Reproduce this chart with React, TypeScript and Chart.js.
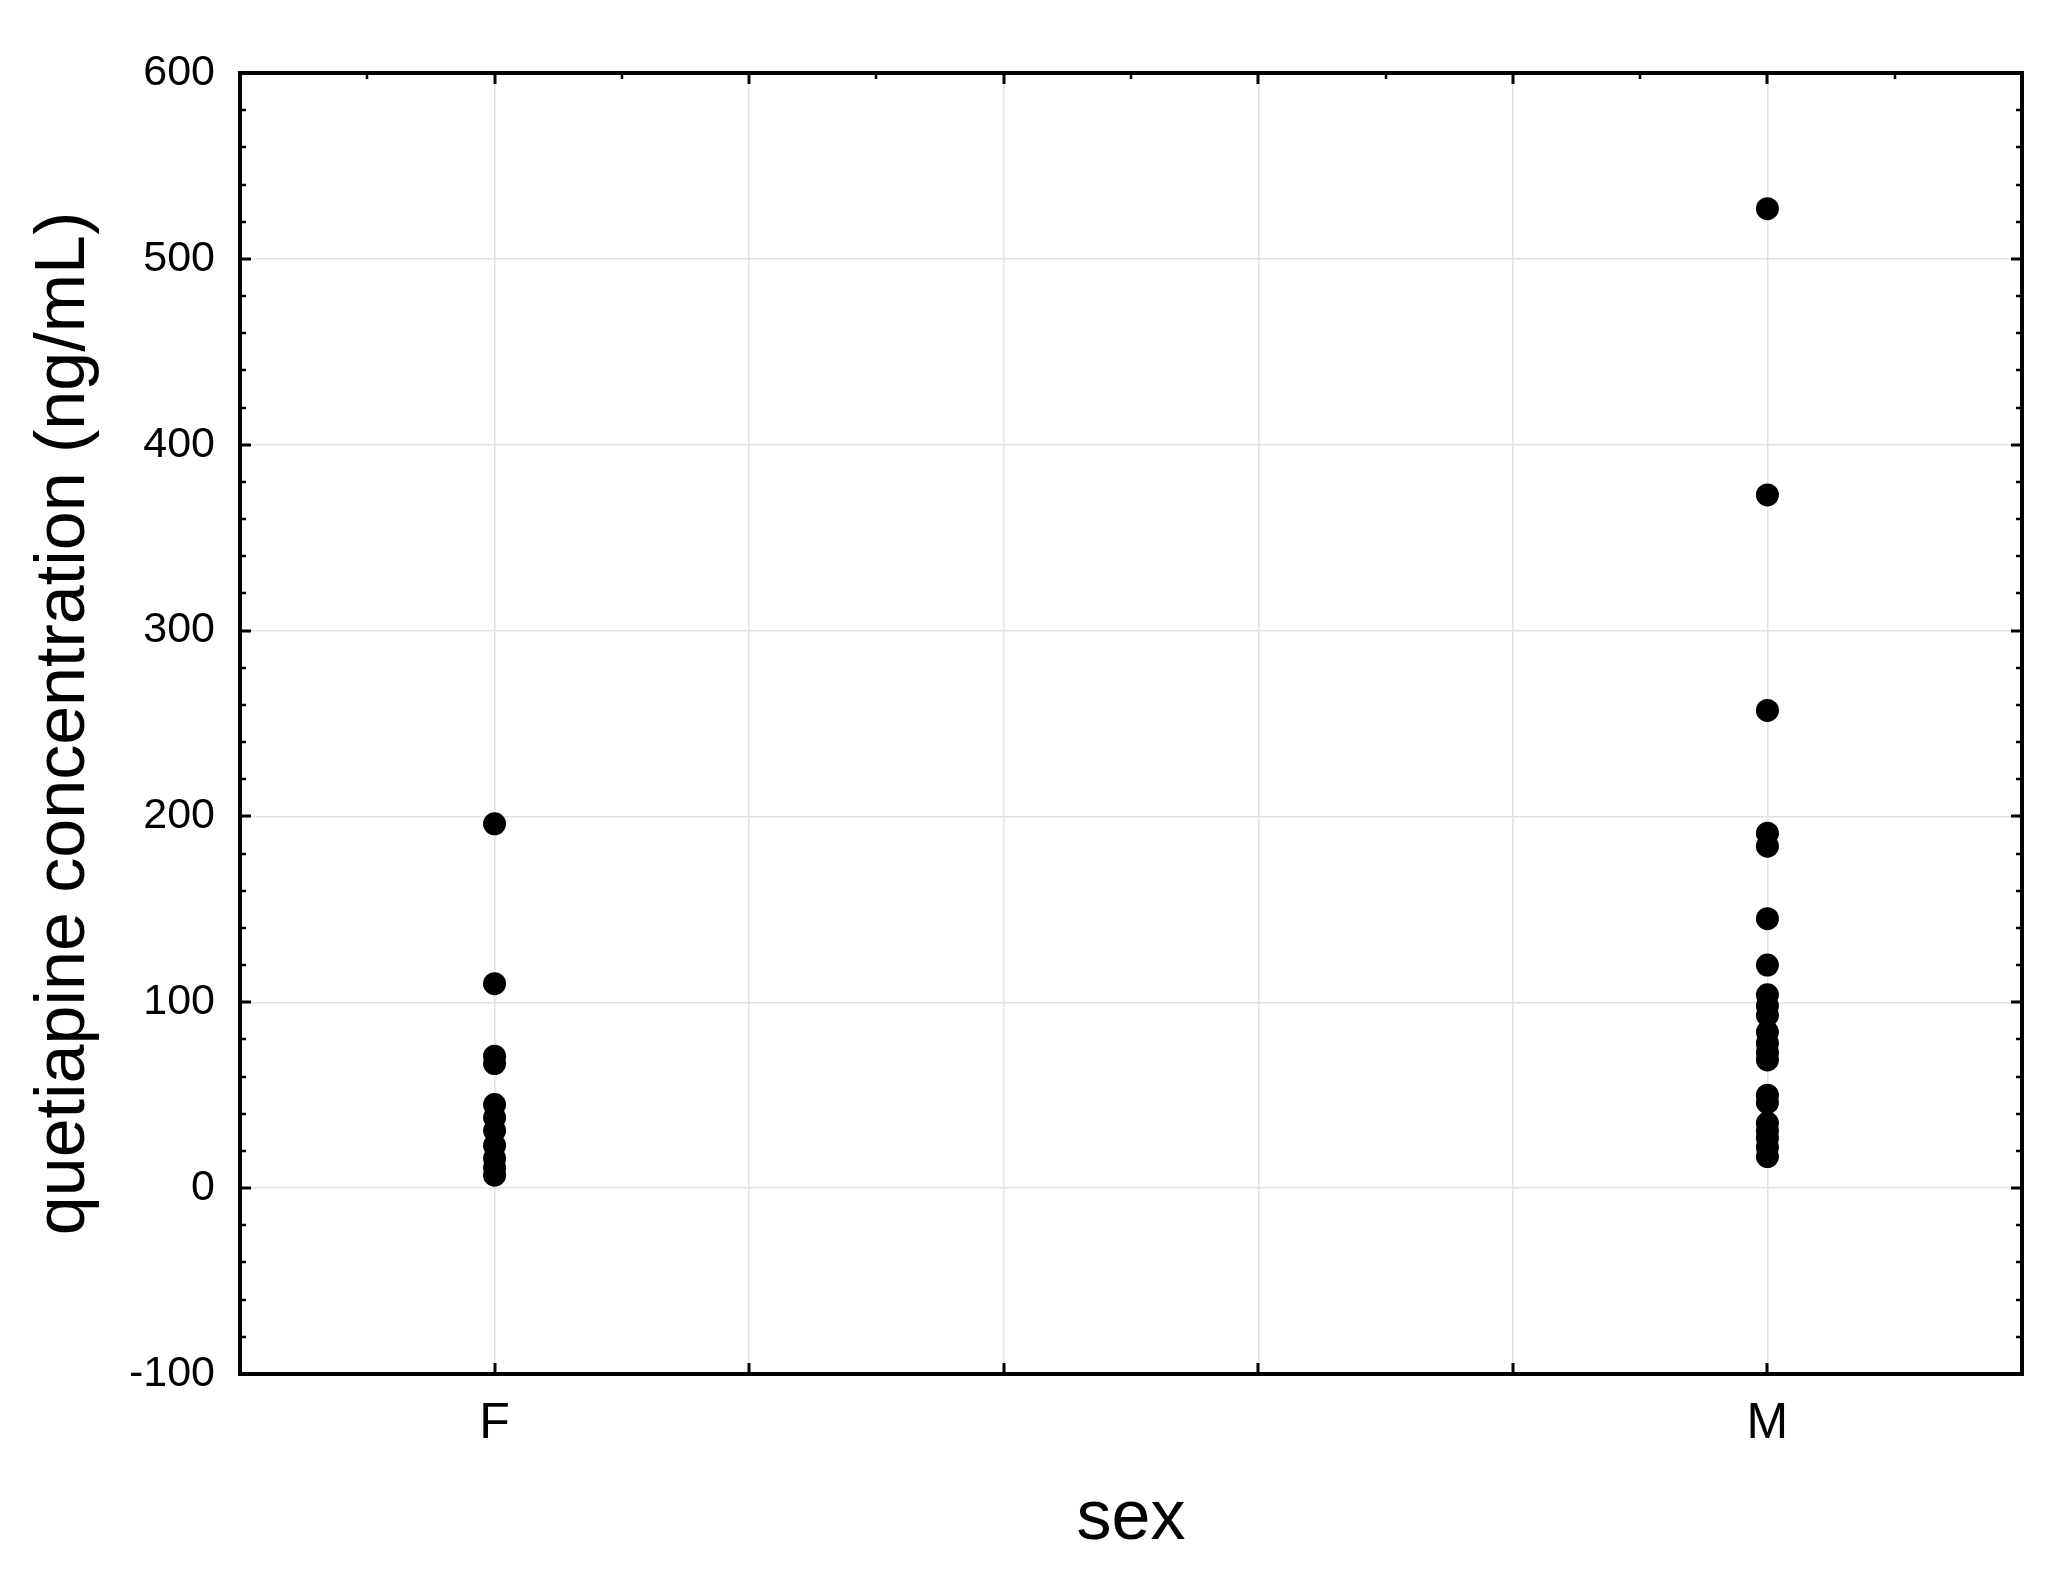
import React, { useEffect, useRef } from 'react';
import { Chart, registerables } from 'chart.js';

Chart.register(...registerables);

// ---- Data ----
const categories = ['F', 'M'];
const categoryPositions = [1, 6];
const femaleValues = [196, 110, 71, 67, 45, 38, 31, 23, 16, 11, 7];
const maleValues = [527, 373, 257, 191, 184, 145, 120, 104, 98, 93, 84, 78, 73, 69, 50, 46, 35, 31, 27, 22, 17];
const yTickValues = [-100, 0, 100, 200, 300, 400, 500, 600];
const xAxisTitle = 'sex';
const yAxisTitle = 'quetiapine concentration (ng/mL)';

const FONT = "'Liberation Sans', Arial, Helvetica, sans-serif";
const X_MIN = 0;
const X_MAX = 7;

const framePlugin = {
  id: 'frame',
  afterDraw(chart: any) {
    const { ctx, chartArea, scales } = chart;
    const { left, right, top, bottom } = chartArea;
    const x = scales.x;
    const y = scales.y;
    ctx.save();
    ctx.strokeStyle = '#000';
    ctx.lineCap = 'butt';
    const yMin = yTickValues[0];
    const yMax = yTickValues[yTickValues.length - 1];
    for (let v = yMin; v <= yMax; v += 20) {
      const py = Math.round(y.getPixelForValue(v));
      const major = v % 100 === 0;
      const len = major ? 11 : 6;
      ctx.lineWidth = major ? 3 : 2.5;
      ctx.beginPath();
      ctx.moveTo(left, py);
      ctx.lineTo(left + len, py);
      ctx.moveTo(right, py);
      ctx.lineTo(right - len, py);
      ctx.stroke();
    }
    for (let v = X_MIN; v <= X_MAX; v += 0.5) {
      const px = Math.round(x.getPixelForValue(v));
      const major = Number.isInteger(v);
      const len = major ? 11 : 6;
      ctx.lineWidth = major ? 3 : 2.5;
      ctx.beginPath();
      if (major) {
        ctx.moveTo(px, bottom);
        ctx.lineTo(px, bottom - len);
      }
      ctx.moveTo(px, top);
      ctx.lineTo(px, top + len);
      ctx.stroke();
    }
    ctx.lineWidth = 4;
    ctx.strokeRect(left, top, right - left, bottom - top);
    ctx.restore();
  },
};

export default function App() {
  const canvasRef = useRef<HTMLCanvasElement | null>(null);

  useEffect(() => {
    const canvas = canvasRef.current;
    if (!canvas) return;
    Chart.defaults.font.family = FONT;
    const chart = new Chart(canvas, {
      type: 'scatter',
      data: {
        datasets: [
          {
            label: categories[0],
            data: femaleValues.map((v) => ({ x: categoryPositions[0], y: v })),
            backgroundColor: '#000',
            borderColor: '#000',
            pointRadius: 11.5,
            pointHoverRadius: 11.5,
            borderWidth: 0,
          },
          {
            label: categories[1],
            data: maleValues.map((v) => ({ x: categoryPositions[1], y: v })),
            backgroundColor: '#000',
            borderColor: '#000',
            pointRadius: 11.5,
            pointHoverRadius: 11.5,
            borderWidth: 0,
          },
        ],
      },
      options: {
        responsive: false,
        animation: false,
        events: [],
        layout: { padding: { top: 73, right: 50, left: 0, bottom: 0 } },
        plugins: {
          legend: { display: false },
          tooltip: { enabled: false },
        },
        scales: {
          x: {
            type: 'linear',
            min: X_MIN,
            max: X_MAX,
            afterFit: (s: any) => {
              s.height = 208;
            },
            ticks: {
              stepSize: 1,
              autoSkip: false,
              maxRotation: 0,
              minRotation: 0,
              padding: 20,
              color: '#000',
              font: { family: FONT, size: 50 },
              callback: (v: any) => {
                const i = categoryPositions.indexOf(Number(v));
                return i >= 0 ? categories[i] : '';
              },
            },
            grid: { color: '#e2e2e2', lineWidth: 1.5, drawTicks: false },
            border: { display: false },
            title: {
              display: true,
              text: xAxisTitle,
              color: '#000',
              font: { family: FONT, size: 70 },
              padding: { top: 0, bottom: 20 },
            },
          },
          y: {
            type: 'linear',
            min: yTickValues[0],
            max: yTickValues[yTickValues.length - 1],
            afterFit: (s: any) => {
              s.width = 240;
            },
            afterBuildTicks: (s: any) => {
              s.ticks = yTickValues.map((v) => ({ value: v }));
            },
            ticks: {
              padding: 25,
              color: '#000',
              font: { family: FONT, size: 43 },
            },
            grid: { color: '#e2e2e2', lineWidth: 1.5, drawTicks: false },
            border: { display: false },
            title: {
              display: true,
              text: yAxisTitle,
              color: '#000',
              font: { family: FONT, size: 70 },
              padding: { top: 23, bottom: 0 },
            },
          },
        },
      },
      plugins: [framePlugin],
    });
    return () => chart.destroy();
  }, []);

  return (
    <div style={{ position: 'absolute', left: 0, top: 0, width: 2072, height: 1582, background: '#fff' }}>
      <canvas ref={canvasRef} width={2072} height={1582} style={{ display: 'block', width: 2072, height: 1582 }} />
    </div>
  );
}
